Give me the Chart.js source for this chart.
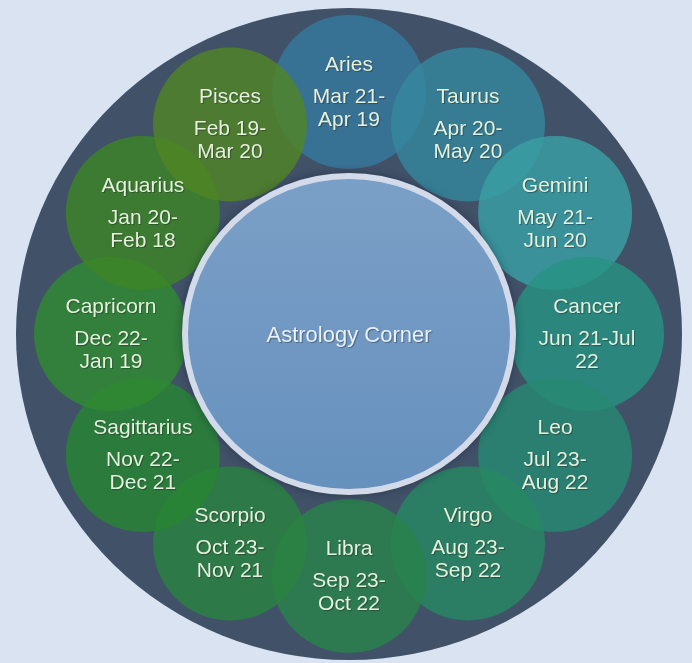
<!DOCTYPE html>
<html>
<head>
<meta charset="utf-8">
<script src="https://cdn.jsdelivr.net/npm/chart.js@4/dist/chart.umd.min.js"></script>
<style>
  html, body { margin: 0; padding: 0; background: #d9e3f2; }
  #wrap { width: 692px; height: 663px; }
</style>
</head>
<body>
<div id="wrap"><canvas id="zodiac" width="692" height="663"></canvas></div>
<script>
// categories, clockwise from the top
const signs = ['Aries', 'Taurus', 'Gemini', 'Cancer', 'Leo', 'Virgo',
  'Libra', 'Scorpio', 'Sagittarius', 'Capricorn', 'Aquarius', 'Pisces'];
const dateLine1 = ['Mar 21-', 'Apr 20-', 'May 21-', 'Jun 21-Jul', 'Jul 23-', 'Aug 23-',
  'Sep 23-', 'Oct 23-', 'Nov 22-', 'Dec 22-', 'Jan 20-', 'Feb 19-'];
const dateLine2 = ['Apr 19', 'May 20', 'Jun 20', '22', 'Aug 22', 'Sep 22',
  'Oct 22', 'Nov 21', 'Dec 21', 'Jan 19', 'Feb 18', 'Mar 20'];
const signColors = ['#36799e', '#34889e', '#39a0a3', '#279382', '#278a72', '#278861',
  '#2a834b', '#2a8341', '#278532', '#318a32', '#3d8526', '#518524'];
const centerTitle = 'Astrology Corner';

const font = '"Liberation Sans", Arial, sans-serif';

// each sign sits at its own slot on the ring (index -> angle)
const ringData = signs.map((s, i) => {
  const a = (90 - i * 30) * Math.PI / 180;
  return { x: Math.cos(a), y: Math.sin(a) };
});

const ringPx = { rx: 238, ry: 242 };

const backdrop = {
  id: 'backdrop',
  beforeDatasetsDraw(chart) {
    const { ctx, scales } = chart;
    const cx = scales.x.getPixelForValue(0), cy = scales.y.getPixelForValue(0);
    ctx.save();
    ctx.fillStyle = '#415168';
    ctx.beginPath();
    ctx.ellipse(cx, cy, 333, 326, 0, 0, Math.PI * 2);
    ctx.fill();
    ctx.restore();
  },
  afterDatasetsDraw(chart) {
    const { ctx, scales } = chart;
    const cx = scales.x.getPixelForValue(0), cy = scales.y.getPixelForValue(0);
    ctx.save();
    // white glow ring around the hub
    ctx.shadowColor = 'rgba(20,30,50,0.45)';
    ctx.shadowBlur = 8;
    ctx.fillStyle = '#d3dbea';
    ctx.beginPath();
    ctx.ellipse(cx, cy, 167, 161, 0, 0, Math.PI * 2);
    ctx.fill();
    ctx.shadowBlur = 0;
    const g = ctx.createLinearGradient(0, cy - 160, 0, cy + 160);
    g.addColorStop(0, '#7ba0c7');
    g.addColorStop(1, '#6690bd');
    ctx.fillStyle = g;
    ctx.beginPath();
    ctx.ellipse(cx, cy, 161, 155, 0, 0, Math.PI * 2);
    ctx.fill();

    ctx.textAlign = 'center';
    ctx.textBaseline = 'middle';
    ctx.shadowColor = 'rgba(10,20,30,0.4)';
    ctx.shadowOffsetX = 1;
    ctx.shadowOffsetY = 1;
    ctx.shadowBlur = 1;
    ctx.fillStyle = '#e8f0fa';
    ctx.font = '22px ' + font;
    ctx.fillText(centerTitle, cx, cy + 2);

    // sign labels
    const meta = chart.getDatasetMeta(0);
    ctx.fillStyle = '#e6f1dc';
    ctx.font = '21px ' + font;
    meta.data.forEach((pt, i) => {
      ctx.fillText(signs[i], pt.x, pt.y - 27);
      ctx.fillText(dateLine1[i], pt.x, pt.y + 5);
      ctx.fillText(dateLine2[i], pt.x, pt.y + 28);
    });
    ctx.restore();
  }
};

new Chart(document.getElementById('zodiac'), {
  type: 'scatter',
  data: {
    datasets: [{
      data: ringData,
      clip: false,
      pointRadius: 77,
      pointHoverRadius: 77,
      pointBorderWidth: 0,
      pointBackgroundColor: signColors.map(c => c + 'd1')
    }]
  },
  options: {
    responsive: false,
    animation: false,
    events: [],
    layout: { autoPadding: false, padding: { left: 6, right: 0, top: 5, bottom: 0 } },
    scales: {
      x: { display: false, min: -343 / ringPx.rx, max: 343 / ringPx.rx },
      y: { display: false, min: -329 / ringPx.ry, max: 329 / ringPx.ry }
    },
    plugins: { legend: { display: false }, tooltip: { enabled: false } }
  },
  plugins: [backdrop]
});
</script>
</body>
</html>
